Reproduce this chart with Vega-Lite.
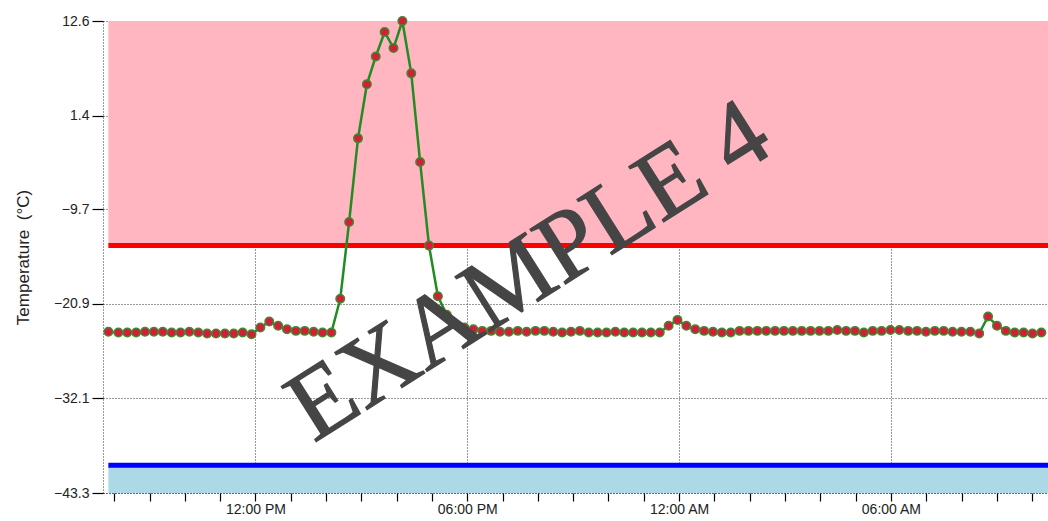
{
  "$schema": "https://vega.github.io/schema/vega-lite/v6.json",
  "width": 945,
  "height": 472,
  "autosize": {"type": "none"},
  "padding": {"left": 103, "top": 21, "right": 0, "bottom": 28},
  "background": "white",
  "config": {"view": {"stroke": null}, "font": "Liberation Sans"},
  "datasets": {
    "readings": [
      {"time": "2023-01-10T07:50:00", "temp": -24.2},
      {"time": "2023-01-10T08:07:00", "temp": -24.3},
      {"time": "2023-01-10T08:22:05", "temp": -24.3},
      {"time": "2023-01-10T08:37:10", "temp": -24.3},
      {"time": "2023-01-10T08:52:15", "temp": -24.2},
      {"time": "2023-01-10T09:07:20", "temp": -24.2},
      {"time": "2023-01-10T09:22:25", "temp": -24.2},
      {"time": "2023-01-10T09:37:30", "temp": -24.3},
      {"time": "2023-01-10T09:52:35", "temp": -24.3},
      {"time": "2023-01-10T10:07:40", "temp": -24.2},
      {"time": "2023-01-10T10:22:45", "temp": -24.3},
      {"time": "2023-01-10T10:37:50", "temp": -24.4},
      {"time": "2023-01-10T10:52:55", "temp": -24.4},
      {"time": "2023-01-10T11:08:00", "temp": -24.4},
      {"time": "2023-01-10T11:23:05", "temp": -24.4},
      {"time": "2023-01-10T11:38:10", "temp": -24.3},
      {"time": "2023-01-10T11:53:15", "temp": -24.5},
      {"time": "2023-01-10T12:08:20", "temp": -23.7},
      {"time": "2023-01-10T12:23:25", "temp": -23.0},
      {"time": "2023-01-10T12:38:30", "temp": -23.5},
      {"time": "2023-01-10T12:53:35", "temp": -23.9},
      {"time": "2023-01-10T13:08:40", "temp": -24.1},
      {"time": "2023-01-10T13:23:45", "temp": -24.1},
      {"time": "2023-01-10T13:38:50", "temp": -24.2},
      {"time": "2023-01-10T13:53:55", "temp": -24.3},
      {"time": "2023-01-10T14:09:00", "temp": -24.3},
      {"time": "2023-01-10T14:24:05", "temp": -20.3},
      {"time": "2023-01-10T14:39:10", "temp": -11.2},
      {"time": "2023-01-10T14:54:15", "temp": -1.3},
      {"time": "2023-01-10T15:09:20", "temp": 5.1},
      {"time": "2023-01-10T15:24:25", "temp": 8.4},
      {"time": "2023-01-10T15:39:30", "temp": 11.3},
      {"time": "2023-01-10T15:54:35", "temp": 9.4},
      {"time": "2023-01-10T16:09:40", "temp": 12.6},
      {"time": "2023-01-10T16:24:45", "temp": 6.4},
      {"time": "2023-01-10T16:39:50", "temp": -4.1},
      {"time": "2023-01-10T16:54:55", "temp": -14.0},
      {"time": "2023-01-10T17:10:00", "temp": -20.0},
      {"time": "2023-01-10T17:25:05", "temp": -22.2},
      {"time": "2023-01-10T17:40:10", "temp": -23.3},
      {"time": "2023-01-10T17:55:15", "temp": -23.7},
      {"time": "2023-01-10T18:10:20", "temp": -23.9},
      {"time": "2023-01-10T18:25:25", "temp": -24.1},
      {"time": "2023-01-10T18:40:30", "temp": -24.1},
      {"time": "2023-01-10T18:55:35", "temp": -24.2},
      {"time": "2023-01-10T19:10:40", "temp": -24.2},
      {"time": "2023-01-10T19:25:45", "temp": -24.1},
      {"time": "2023-01-10T19:40:50", "temp": -24.2},
      {"time": "2023-01-10T19:55:55", "temp": -24.1},
      {"time": "2023-01-10T20:11:00", "temp": -24.1},
      {"time": "2023-01-10T20:26:05", "temp": -24.2},
      {"time": "2023-01-10T20:41:10", "temp": -24.3},
      {"time": "2023-01-10T20:56:15", "temp": -24.2},
      {"time": "2023-01-10T21:11:20", "temp": -24.1},
      {"time": "2023-01-10T21:26:25", "temp": -24.3},
      {"time": "2023-01-10T21:41:30", "temp": -24.3},
      {"time": "2023-01-10T21:56:35", "temp": -24.3},
      {"time": "2023-01-10T22:11:40", "temp": -24.2},
      {"time": "2023-01-10T22:26:45", "temp": -24.3},
      {"time": "2023-01-10T22:41:50", "temp": -24.3},
      {"time": "2023-01-10T22:56:55", "temp": -24.3},
      {"time": "2023-01-10T23:12:00", "temp": -24.3},
      {"time": "2023-01-10T23:27:05", "temp": -24.3},
      {"time": "2023-01-10T23:42:10", "temp": -23.5},
      {"time": "2023-01-10T23:57:15", "temp": -22.8},
      {"time": "2023-01-11T00:12:20", "temp": -23.5},
      {"time": "2023-01-11T00:27:25", "temp": -23.9},
      {"time": "2023-01-11T00:42:30", "temp": -24.1},
      {"time": "2023-01-11T00:57:35", "temp": -24.2},
      {"time": "2023-01-11T01:12:40", "temp": -24.3},
      {"time": "2023-01-11T01:27:45", "temp": -24.3},
      {"time": "2023-01-11T01:42:50", "temp": -24.1},
      {"time": "2023-01-11T01:57:55", "temp": -24.1},
      {"time": "2023-01-11T02:13:00", "temp": -24.1},
      {"time": "2023-01-11T02:28:05", "temp": -24.1},
      {"time": "2023-01-11T02:43:10", "temp": -24.1},
      {"time": "2023-01-11T02:58:15", "temp": -24.1},
      {"time": "2023-01-11T03:13:20", "temp": -24.1},
      {"time": "2023-01-11T03:28:25", "temp": -24.1},
      {"time": "2023-01-11T03:43:30", "temp": -24.1},
      {"time": "2023-01-11T03:58:35", "temp": -24.1},
      {"time": "2023-01-11T04:13:40", "temp": -24.1},
      {"time": "2023-01-11T04:28:45", "temp": -24.0},
      {"time": "2023-01-11T04:43:50", "temp": -24.1},
      {"time": "2023-01-11T04:58:55", "temp": -24.1},
      {"time": "2023-01-11T05:14:00", "temp": -24.3},
      {"time": "2023-01-11T05:29:05", "temp": -24.1},
      {"time": "2023-01-11T05:44:10", "temp": -24.1},
      {"time": "2023-01-11T05:59:15", "temp": -24.0},
      {"time": "2023-01-11T06:14:20", "temp": -24.0},
      {"time": "2023-01-11T06:29:25", "temp": -24.1},
      {"time": "2023-01-11T06:44:30", "temp": -24.1},
      {"time": "2023-01-11T06:59:35", "temp": -24.2},
      {"time": "2023-01-11T07:14:40", "temp": -24.1},
      {"time": "2023-01-11T07:29:45", "temp": -24.1},
      {"time": "2023-01-11T07:44:50", "temp": -24.2},
      {"time": "2023-01-11T07:59:55", "temp": -24.2},
      {"time": "2023-01-11T08:15:00", "temp": -24.2},
      {"time": "2023-01-11T08:30:05", "temp": -24.4},
      {"time": "2023-01-11T08:45:10", "temp": -22.4},
      {"time": "2023-01-11T09:00:15", "temp": -23.5},
      {"time": "2023-01-11T09:15:20", "temp": -24.1},
      {"time": "2023-01-11T09:30:25", "temp": -24.3},
      {"time": "2023-01-11T09:45:30", "temp": -24.3},
      {"time": "2023-01-11T10:00:35", "temp": -24.4},
      {"time": "2023-01-11T10:15:40", "temp": -24.3}
    ],
    "zones": [
      {"zone": "High alarm zone", "temp": -14, "temp2": 12.6, "time": "2023-01-10T07:50:00", "time2": "2023-01-11T10:40:00"},
      {"zone": "Low alarm zone", "temp": -43.3, "temp2": -40, "time": "2023-01-10T07:50:00", "time2": "2023-01-11T10:40:00"}
    ],
    "limits": [
      {"name": "High limit", "temp": -14, "time": "2023-01-10T07:50:00", "time2": "2023-01-11T10:40:00"},
      {"name": "Low limit", "temp": -40, "time": "2023-01-10T07:50:00", "time2": "2023-01-11T10:40:00"}
    ],
    "watermark": [
      {"label": "EXAMPLE 4", "time": "2023-01-10T20:12:00", "temp": -20.1}
    ]
  },
  "resolve": {"scale": {"color": "independent"}, "axis": {"x": "independent", "y": "independent"}},
  "layer": [
    {
      "data": {"name": "zones"},
      "mark": {"type": "rect", "clip": true},
      "encoding": {
        "x": {
          "field": "time",
          "type": "temporal",
          "scale": {"domain": ["2023-01-10T07:40:50", "2023-01-11T10:27:00"]},
          "axis": {
            "orient": "bottom",
            "values": [
              {"year": 2023, "month": 1, "date": 10, "hours": 12},
              {"year": 2023, "month": 1, "date": 10, "hours": 18},
              {"year": 2023, "month": 1, "date": 11, "hours": 0},
              {"year": 2023, "month": 1, "date": 11, "hours": 6}
            ],
            "format": "%I:%M %p",
            "title": null,
            "grid": true,
            "gridColor": "#333",
            "gridDash": [1, 2],
            "labelFont": "Liberation Sans",
            "labelFontSize": 14,
            "labelColor": "#222",
            "labelPadding": 1,
            "labelOverlap": false,
            "labelFlush": false,
            "tickSize": 8,
            "tickColor": "#000",
            "tickWidth": 1.2,
            "domainColor": "#333",
            "domainDash": [1, 2]
          }
        },
        "x2": {"field": "time2"},
        "y": {
          "field": "temp",
          "type": "quantitative",
          "scale": {"domain": [-43.3, 12.6], "nice": false, "zero": false},
          "axis": {
            "values": [-43.3, -32.1, -20.9, -9.7, 1.4, 12.6],
            "format": ".1f",
            "title": "Temperature\u00a0\u00a0(°C)",
            "titleFont": "Liberation Sans",
            "titleFontSize": 17,
            "titleFontWeight": "normal",
            "titleColor": "#222",
            "titlePadding": 21,
            "labelFont": "Liberation Sans",
            "labelFontSize": 14,
            "labelColor": "#222",
            "labelPadding": 3,
            "labelFlush": false,
            "labelOverlap": false,
            "tickSize": 11,
            "tickColor": "#000",
            "tickWidth": 1.2,
            "domainColor": "#333",
            "domainDash": [1, 2],
            "grid": true,
            "gridColor": "#333",
            "gridDash": [1, 2]
          }
        },
        "y2": {"field": "temp2"},
        "color": {
          "field": "zone",
          "type": "nominal",
          "scale": {"domain": ["High alarm zone", "Low alarm zone"], "range": ["#FFB6C1", "#ADD8E6"]},
          "legend": null
        }
      }
    },
    {
      "data": {"name": "limits"},
      "mark": {"type": "rule", "strokeWidth": 5, "clip": true},
      "encoding": {
        "x": {
          "field": "time",
          "type": "temporal",
          "axis": {
            "orient": "bottom",
            "values": [
              {"year": 2023, "month": 1, "date": 10, "hours": 8},
              {"year": 2023, "month": 1, "date": 10, "hours": 9},
              {"year": 2023, "month": 1, "date": 10, "hours": 10},
              {"year": 2023, "month": 1, "date": 10, "hours": 11},
              {"year": 2023, "month": 1, "date": 10, "hours": 13},
              {"year": 2023, "month": 1, "date": 10, "hours": 14},
              {"year": 2023, "month": 1, "date": 10, "hours": 15},
              {"year": 2023, "month": 1, "date": 10, "hours": 16},
              {"year": 2023, "month": 1, "date": 10, "hours": 17},
              {"year": 2023, "month": 1, "date": 10, "hours": 19},
              {"year": 2023, "month": 1, "date": 10, "hours": 20},
              {"year": 2023, "month": 1, "date": 10, "hours": 21},
              {"year": 2023, "month": 1, "date": 10, "hours": 22},
              {"year": 2023, "month": 1, "date": 10, "hours": 23},
              {"year": 2023, "month": 1, "date": 11, "hours": 1},
              {"year": 2023, "month": 1, "date": 11, "hours": 2},
              {"year": 2023, "month": 1, "date": 11, "hours": 3},
              {"year": 2023, "month": 1, "date": 11, "hours": 4},
              {"year": 2023, "month": 1, "date": 11, "hours": 5},
              {"year": 2023, "month": 1, "date": 11, "hours": 7},
              {"year": 2023, "month": 1, "date": 11, "hours": 8},
              {"year": 2023, "month": 1, "date": 11, "hours": 9},
              {"year": 2023, "month": 1, "date": 11, "hours": 10}
            ],
            "title": null,
            "labels": false,
            "grid": false,
            "domain": false,
            "tickSize": 8,
            "tickColor": "#000",
            "tickWidth": 1.2
          }
        },
        "x2": {"field": "time2"},
        "y": {"field": "temp", "type": "quantitative", "axis": null},
        "color": {
          "field": "name",
          "type": "nominal",
          "scale": {"domain": ["High limit", "Low limit"], "range": ["#FF0000", "#0000FF"]},
          "legend": null
        }
      }
    },
    {
      "data": {"name": "readings"},
      "mark": {"type": "line", "color": "#228B22", "strokeWidth": 2.5},
      "encoding": {
        "x": {"field": "time", "type": "temporal", "axis": null},
        "y": {"field": "temp", "type": "quantitative", "axis": null}
      }
    },
    {
      "data": {"name": "readings"},
      "mark": {"type": "point", "filled": true, "fill": "#D41C3C", "stroke": "#3f8a2a", "strokeWidth": 1.5, "size": 72, "opacity": 1, "fillOpacity": 1},
      "encoding": {
        "x": {"field": "time", "type": "temporal", "axis": null},
        "y": {"field": "temp", "type": "quantitative", "axis": null}
      }
    },
    {
      "data": {"name": "watermark"},
      "mark": {"type": "text", "font": "Liberation Serif", "fontSize": 100, "color": "#454545", "stroke": "#454545", "strokeWidth": 1.2, "angle": -32.3, "align": "center", "baseline": "alphabetic"},
      "encoding": {
        "x": {"field": "time", "type": "temporal", "axis": null},
        "y": {"field": "temp", "type": "quantitative", "axis": null},
        "text": {"field": "label"}
      }
    }
  ]
}
